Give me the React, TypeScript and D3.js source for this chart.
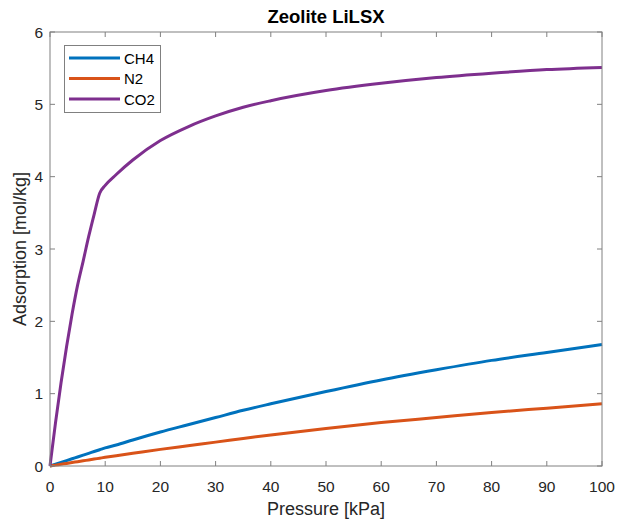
import React from "react";
import * as d3 from "d3";

const pressure = [0, 1, 2, 3, 4, 5, 6, 7, 8, 9, 10, 12, 15, 20, 25, 30, 35, 40, 50, 60, 70, 80, 90, 100];
const ch4 = [0, 0.025, 0.05, 0.075, 0.1, 0.125, 0.15, 0.175, 0.2, 0.225, 0.25, 0.29, 0.36, 0.47, 0.57, 0.67, 0.77, 0.86, 1.03, 1.19, 1.33, 1.46, 1.57, 1.68];
const n2 = [0, 0.012, 0.024, 0.036, 0.048, 0.06, 0.072, 0.084, 0.096, 0.108, 0.12, 0.142, 0.175, 0.23, 0.28, 0.33, 0.38, 0.43, 0.52, 0.6, 0.67, 0.74, 0.8, 0.86];
const co2 = [0, 0.6, 1.15, 1.65, 2.1, 2.5, 2.83, 3.17, 3.48, 3.77, 3.88, 4.03, 4.23, 4.5, 4.69, 4.84, 4.96, 5.05, 5.19, 5.29, 5.37, 5.43, 5.48, 5.51];
const seriesNames = ["CH4", "N2", "CO2"];
const seriesColors = ["#0072BD", "#D95319", "#7E2F8E"];
const xTicks = [0, 10, 20, 30, 40, 50, 60, 70, 80, 90, 100];
const yTicks = [0, 1, 2, 3, 4, 5, 6];

export default function App() {
  const W = 617, H = 521;
  const L = 50, R = 602, T = 32, B = 466;
  const x = d3.scaleLinear().domain([0, 100]).range([L, R]);
  const y = d3.scaleLinear().domain([0, 6]).range([B, T]);
  const series = [ch4, n2, co2];
  const line = (vals: number[]) =>
    d3.line<number>().x((_, i) => x(pressure[i])).y((v) => y(v)).curve(d3.curveMonotoneX)(vals) || "";
  const axisColor = "#808080";
  const font = "Liberation Sans, Arial, sans-serif";
  return (
    <svg width={W} height={H} style={{ position: "absolute", left: 0, top: 0, background: "#fff" }} fontFamily={font}>
      <rect x={0} y={0} width={W} height={H} fill="#fff" />
      <text x={(L + R) / 2} y={23} textAnchor="middle" fontWeight="bold" fontSize={18.5} fill="#000">Zeolite LiLSX</text>
      {series.map((s, i) => (
        <path key={i} d={line(s)} fill="none" stroke={seriesColors[i]} strokeWidth={3} strokeLinejoin="round" />
      ))}
      <rect x={L} y={T} width={R - L} height={B - T} fill="none" stroke={axisColor} strokeWidth={1} />
      {xTicks.map((t) => (
        <g key={"x" + t}>
          <line x1={x(t)} x2={x(t)} y1={B} y2={B - 5} stroke={axisColor} />
          <line x1={x(t)} x2={x(t)} y1={T} y2={T + 5} stroke={axisColor} />
          <text x={x(t)} y={492} textAnchor="middle" fontSize={15.5} fill="#262626">{t}</text>
        </g>
      ))}
      {yTicks.map((t) => (
        <g key={"y" + t}>
          <line x1={L} x2={L + 5} y1={y(t)} y2={y(t)} stroke={axisColor} />
          <line x1={R} x2={R - 5} y1={y(t)} y2={y(t)} stroke={axisColor} />
          <text x={L - 7} y={y(t) + 5.5} textAnchor="end" fontSize={15.5} fill="#262626">{t}</text>
        </g>
      ))}
      <text x={(L + R) / 2} y={515} textAnchor="middle" fontSize={18} fill="#262626">Pressure [kPa]</text>
      <text transform={`translate(26,${(T + B) / 2}) rotate(-90)`} textAnchor="middle" fontSize={18} fill="#262626">Adsorption [mol/kg]</text>
      <rect x={64.5} y={45.5} width={96} height={67} fill="#fff" stroke={axisColor} />
      {seriesNames.map((n, i) => (
        <g key={n}>
          <line x1={69} x2={120} y1={58 + i * 20.5} y2={58 + i * 20.5} stroke={seriesColors[i]} strokeWidth={3} />
          <text x={124} y={63.5 + i * 20.5} fontSize={15} fill="#000">{n}</text>
        </g>
      ))}
    </svg>
  );
}
